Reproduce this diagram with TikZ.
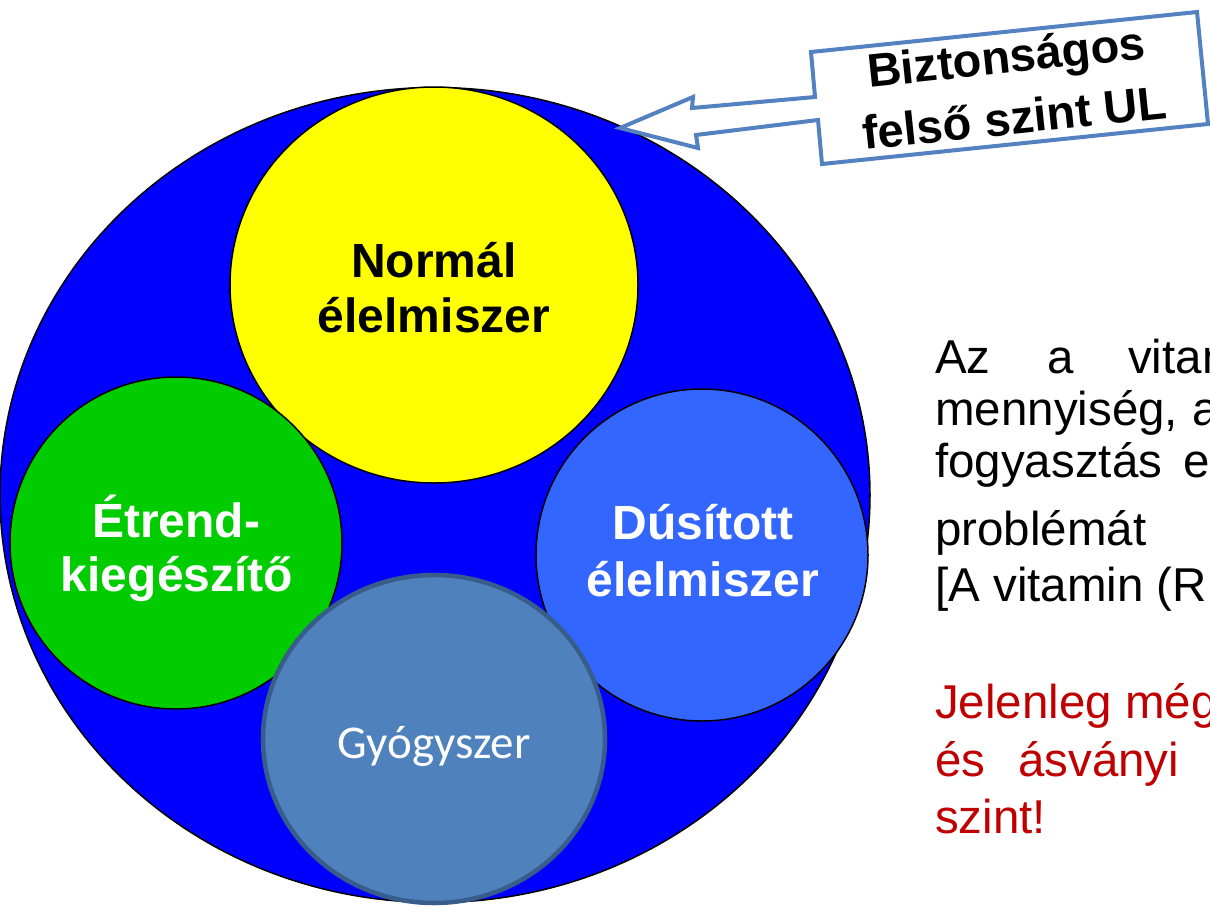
\documentclass[tikz,border=0pt]{standalone}
\usepackage{fontspec}
\setmainfont{Liberation Sans}
\newfontfamily\calibrifont{Carlito}
\usetikzlibrary{shapes.geometric}
\definecolor{ulblue}{RGB}{0,0,255}
\definecolor{normyellow}{RGB}{255,255,0}
\definecolor{etgreen}{RGB}{0,204,0}
\definecolor{dusblue}{RGB}{51,102,255}
\definecolor{gyfill}{RGB}{79,129,189}
\definecolor{gyline}{RGB}{56,93,138}
\definecolor{callline}{RGB}{84,130,192}
\definecolor{redtext}{RGB}{192,0,0}
\begin{document}
\begin{tikzpicture}[x=1pt,y=-1pt,
  circ/.style={ellipse, draw=black, line width=1.5pt, inner sep=0pt},
  boldlbl/.style={font=\fontsize{48}{50}\selectfont\bfseries, anchor=base, inner sep=0pt},
  body/.style={font=\fontsize{47.5}{55}\selectfont, anchor=base west, inner sep=0pt},
  redbody/.style={body, text=redtext},
  callbox/.style={draw=callline, fill=white, line width=4pt, line join=miter},
  calltext/.style={font=\fontsize{47}{50}\selectfont\bfseries, anchor=base, inner sep=0pt, rotate=6}
]
\useasboundingbox (0,0) rectangle (1210,905);
\clip (0,0) rectangle (1210,905);
\fill[white] (0,0) rectangle (1210,905);

% circles
\node[circ, fill=ulblue, minimum width=870pt, minimum height=815pt] (ul) at (435,495) {};
\node[circ, fill=normyellow, minimum width=408pt, minimum height=396pt] (norm) at (434,285) {};
\node[circ, fill=etgreen, minimum width=332pt, minimum height=332pt] (etr) at (176,543) {};
\node[circ, fill=dusblue, minimum width=332pt, minimum height=332pt] (dus) at (702,555) {};
\node[ellipse, inner sep=0pt, fill=gyfill, draw=gyline, line width=4.5pt, minimum width=342pt, minimum height=328pt] (gy) at (434,739) {};

% circle labels
\node[boldlbl] (tNorm1) at (434,277) {Normál};
\node[boldlbl] (tNorm2) at (434,332) {élelmiszer};
\node[boldlbl, text=white] (tEt1) at (176,537) {Étrend-};
\node[boldlbl, text=white] (tEt2) at (177,591) {kiegészítő};
\node[boldlbl, text=white] (tDu1) at (703,539) {Dúsított};
\node[boldlbl, text=white] (tDu2) at (703,596) {élelmiszer};
\node[font=\calibrifont\fontsize{47}{50}\selectfont, text=white, anchor=base, inner sep=0pt] (tGy) at (434,758) {Gyógyszer};

% callout
\coordinate (cA) at (811,52);
\coordinate (cB) at (1197,12);
\coordinate (cC) at (1208,124);
\coordinate (cD) at (822,164);
\coordinate (cE) at (818,120);
\coordinate (cF) at (696,135);
\coordinate (cG) at (698,148);
\coordinate (cT) at (620,128);
\coordinate (cH) at (693,97);
\coordinate (cI) at (692,108);
\coordinate (cJ) at (815,97);
\draw[callbox] (cA) -- (cB) -- (cC) -- (cD) -- (cE) -- (cF) -- (cG) -- (cT) -- (cH) -- (cI) -- (cJ) -- cycle;
\node[calltext] (ct1) at (1008,73) {Biztonságos};
\node[calltext] (ct2) at (1016,134) {felső szint UL};

% right text
\node[body] (l1a) at (935,373) {Az};
\node[body] (l1b) at (1047,373) {a};
\node[body] (l1c) at (1128,373) {vitamin};
\node[body] (l2a) at (935,425) {mennyiség,};
\node[body] (l2b) at (1192,425) {a};
\node[body] (l3a) at (935,477) {fogyasztás};
\node[body] (l3b) at (1183,477) {e};
\node[body] (l4a) at (935,545) {problémát};
\node[body] (l5a) at (935,601) {[A vitamin (RE};
\node[redbody] (r1a) at (935,718) {Jelenleg még};
\node[redbody] (r2a) at (935,776) {és};
\node[redbody] (r2b) at (1018,776) {ásványi};
\node[redbody] (r3a) at (935,833) {szint!};
\end{tikzpicture}
\end{document}
